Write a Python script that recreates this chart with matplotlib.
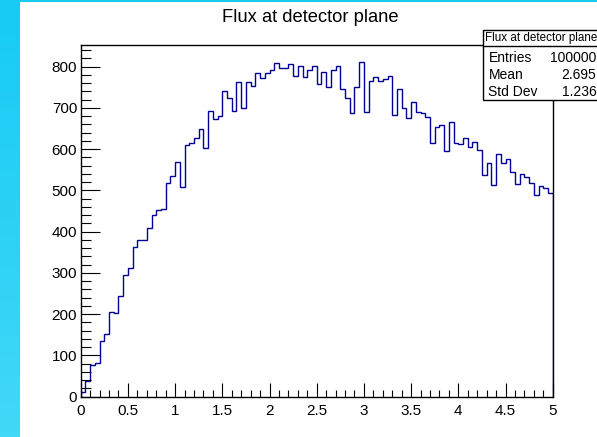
import numpy as np
import matplotlib
matplotlib.use("Agg")
import matplotlib.pyplot as plt
from matplotlib.patches import Rectangle
from matplotlib.lines import Line2D
from matplotlib.ticker import MultipleLocator
from matplotlib.colors import LinearSegmentedColormap

plt.rcParams['font.family'] = ['Liberation Sans', 'DejaVu Sans']

title = "Flux at detector plane"
x_min, x_max, n_bins = 0.0, 5.0, 100
counts = [
    12, 39, 77, 81, 135, 153, 206, 204, 245, 296,
    313, 364, 379, 379, 410, 441, 452, 454, 519, 535,
    570, 509, 609, 614, 626, 650, 602, 693, 672, 680,
    742, 723, 692, 764, 699, 764, 753, 785, 773, 784,
    793, 810, 796, 798, 806, 777, 802, 775, 792, 802,
    758, 786, 751, 793, 802, 747, 723, 688, 750, 812,
    691, 766, 774, 766, 769, 778, 683, 747, 699, 675,
    715, 691, 688, 679, 616, 655, 658, 595, 665, 614,
    612, 628, 606, 617, 598, 537, 566, 513, 588, 566,
    576, 545, 515, 539, 533, 519, 489, 511, 507, 493,
]
stat_names = ["Entries", "Mean", "Std Dev"]
stat_values = ["100000", "2.695", "1.236"]

W, H = 597, 437
fig = plt.figure(figsize=(W / 100, H / 100), dpi=100)
fig.patch.set_facecolor("white")

# cyan window background on left / top edge
bg = fig.add_axes([0, 0, 20 / W, 1])
grad = np.linspace(0, 1, 100).reshape(-1, 1)
cmap = LinearSegmentedColormap.from_list("c", ["#42d8f8", "#16cbf4"])
bg.imshow(grad, aspect="auto", cmap=cmap, origin="lower", extent=[0, 1, 0, 1])
bg.set_axis_off()
fig.add_artist(Rectangle((0, 1 - 2 / H), 1, 2 / H, transform=fig.transFigure,
                         color="#16cbf4", lw=0, zorder=0))

L, R, B, T = 80.7, 552.7, 396.7, 45.0
ax = fig.add_axes([L / W, 1 - B / H, (R - L) / W, (B - T) / H])
edges = np.linspace(x_min, x_max, n_bins + 1)
ax.stairs(counts, edges, baseline=0, color="#000099", lw=1.0)
ax.set_xlim(x_min, x_max)
ax.set_ylim(0, 1.05 * max(counts))

ax.xaxis.set_major_locator(MultipleLocator(0.5))
ax.xaxis.set_minor_locator(MultipleLocator(0.1))
ax.yaxis.set_major_locator(MultipleLocator(100))
ax.yaxis.set_minor_locator(MultipleLocator(20))
ax.tick_params(which="both", direction="in", top=False, right=False, width=0.8, color="black")
ax.tick_params(axis="x", which="major", length=10, pad=5, labelsize=11)
ax.tick_params(axis="x", which="minor", length=5)
ax.tick_params(axis="y", which="major", length=14, pad=2.5, labelsize=11)
ax.tick_params(axis="y", which="minor", length=7)
ax.set_xticklabels([f"{v:g}" for v in ax.get_xticks()])
for s in ax.spines.values():
    s.set_linewidth(1.0)

fig.text(310 / W, 1 - 18 / H, title, ha="center", va="center", fontsize=13.2)

# stats box
bx0, by0, bx1, by1 = 482.5, 29.5, 600, 100
sep = 45.5
fig.add_artist(Rectangle((bx0 / W, 1 - by1 / H), (bx1 - bx0) / W, (by1 - by0) / H,
                         transform=fig.transFigure, facecolor="white", edgecolor="black",
                         lw=1.0, zorder=5))
fig.add_artist(Line2D([bx0 / W, 1], [1 - sep / H] * 2,
                      transform=fig.transFigure, color="black", lw=1.0, zorder=6))
fig.text((bx0 + 3) / W, 1 - 37.5 / H, title, ha="left", va="center", fontsize=8.4, zorder=7)
rows_y = [58, 75, 92]
for nm, val, yy in zip(stat_names, stat_values, rows_y):
    fig.text((bx0 + 6) / W, 1 - yy / H, nm, ha="left", va="center", fontsize=10, zorder=7)
    fig.text(596.5 / W, 1 - yy / H, val, ha="right", va="center", fontsize=10, zorder=7)

fig.savefig("out.png", dpi=100)
